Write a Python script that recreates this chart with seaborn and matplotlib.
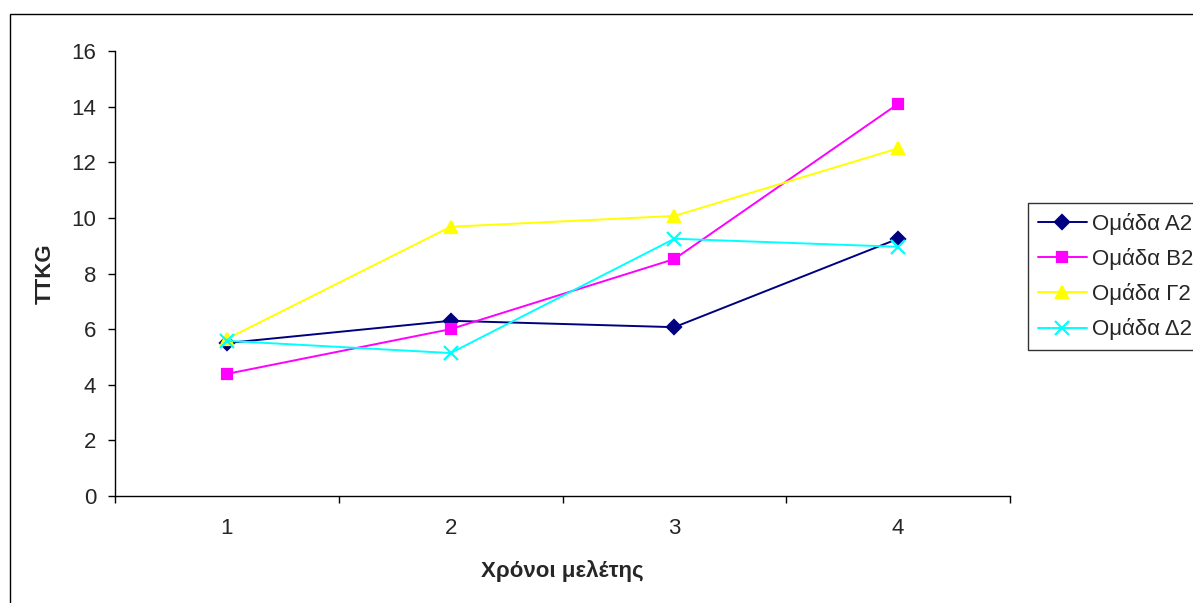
import matplotlib
matplotlib.use("Agg")
import matplotlib.pyplot as plt
import seaborn as sns
import pandas as pd
from matplotlib.patches import Rectangle

years = [1, 2, 3, 4]
groups = ["Ομάδα Α2", "Ομάδα Β2", "Ομάδα Γ2", "Ομάδα Δ2"]
a2 = [5.50, 6.30, 6.07, 9.25]
b2 = [4.39, 6.00, 8.52, 14.10]
g2 = [5.65, 9.68, 10.07, 12.50]
d2 = [5.58, 5.14, 9.25, 8.96]
y_ticks = [0, 2, 4, 6, 8, 10, 12, 14, 16]
x_label = "Χρόνοι μελέτης"
y_label = "TTKG"

colors = ["#000080", "#FF00FF", "#FFFF00", "#00FFFF"]
markers = ["D", "s", "^", "x"]
msizes = [7, 7, 9, 10]

sns.set_theme(style="white")
plt.rcParams["font.family"] = ["Liberation Sans", "DejaVu Sans"]

fig = plt.figure(figsize=(11.93, 6.03), dpi=100)
ax = fig.add_axes([115/1193, 1-496/603, 895/1193, (496-51)/603])

for g, vals, c, m, ms in zip(groups, [a2, b2, g2, d2], colors, markers, msizes):
    df = pd.DataFrame({"year": years, "value": vals})
    sns.lineplot(data=df, x="year", y="value", color=c, marker=m,
                 markersize=ms, linewidth=1.4, markeredgewidth=1.6,
                 markeredgecolor=c, markerfacecolor=c, label=g, ax=ax)

ax.set_xlim(0.5, 4.5)
ax.set_ylim(0, 16)
ax.set_yticks(y_ticks)
ax.set_xticks(years)
ax.set_xticks([0.5, 1.5, 2.5, 3.5, 4.5], minor=True)
ax.tick_params(axis="x", which="major", length=0, pad=16, labelsize=16)
ax.tick_params(axis="x", which="minor", length=5, width=1, color="black", direction="out", bottom=True)
ax.tick_params(axis="y", length=5, width=1, color="black", direction="out", left=True, labelsize=16, pad=8.5)
for s in ["top", "right"]:
    ax.spines[s].set_visible(False)
for s in ["left", "bottom"]:
    ax.spines[s].set_color("black")
    ax.spines[s].set_linewidth(1)
ax.set_xlabel(x_label, fontsize=16, fontweight="bold", labelpad=15)
ax.set_ylabel(y_label, fontsize=16, fontweight="bold", labelpad=11)
ax.grid(False)

handles, labels = ax.get_legend_handles_labels()
ax.get_legend().remove()
leg = fig.legend(handles, labels, loc="upper left",
                 bbox_to_anchor=(1028/1193, 1-203/603),
                 fontsize=16, frameon=True, fancybox=False,
                 edgecolor="black", borderpad=0.45, labelspacing=0.59,
                 handlelength=2.2, handletextpad=0.25, borderaxespad=0)
leg.get_frame().set_linewidth(1)

fig.patches.append(Rectangle((10/1193, -0.1), 1.2, 1-14/603+0.1,
                             transform=fig.transFigure, fill=False,
                             edgecolor="black", linewidth=1))

fig.savefig("out.png", dpi=100)
